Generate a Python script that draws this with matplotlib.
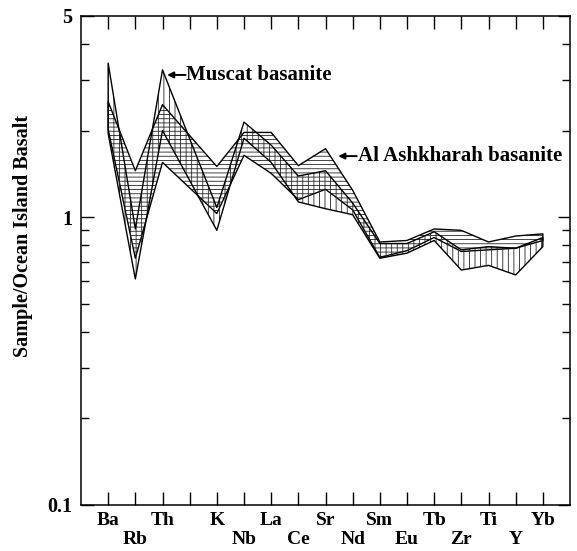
import numpy as np
import matplotlib.pyplot as plt
from matplotlib.ticker import NullFormatter

plt.rcParams['font.family'] = ['Liberation Serif', 'DejaVu Serif']
plt.rcParams['font.weight'] = 'bold'
plt.rcParams['hatch.linewidth'] = 0.6

# Slots along the x axis ('' is a slot with no data)
elements = ['Ba', 'Rb', 'Th', '', 'K', 'Nb', 'La', 'Ce', 'Sr', 'Nd',
            'Sm', 'Eu', 'Tb', 'Zr', 'Ti', 'Y', 'Yb']
lower_row = ['Rb', 'Nb', 'Ce', 'Nd', 'Eu', 'Zr', 'Y']   # labels on the second line

field_elements = ['Ba', 'Rb', 'Th', 'K', 'Nb', 'La', 'Ce', 'Sr', 'Nd',
                  'Sm', 'Eu', 'Tb', 'Zr', 'Ti', 'Y', 'Yb']

# OIB-normalised envelopes (upper / lower bound of each field)
muscat_hi = [3.43, 0.91, 3.25, 1.08, 2.14, 1.78, 1.39, 1.45, 1.12, 0.81, 0.81, 0.89, 0.77, 0.79, 0.78, 0.85]
muscat_lo = [1.95, 0.61, 2.00, 0.90, 1.88, 1.55, 1.13, 1.07, 1.02, 0.72, 0.75, 0.83, 0.655, 0.68, 0.63, 0.79]
ashkh_hi = [2.52, 1.45, 2.46, 1.50, 1.97, 1.97, 1.51, 1.73, 1.24, 0.82, 0.83, 0.91, 0.90, 0.82, 0.86, 0.875]
ashkh_lo = [2.02, 0.72, 1.55, 1.03, 1.64, 1.42, 1.15, 1.25, 1.06, 0.725, 0.765, 0.85, 0.76, 0.77, 0.78, 0.83]

x = [elements.index(e) for e in field_elements]

fig = plt.figure(figsize=(5.77, 5.51), dpi=100)
ax = fig.add_axes([81/577, 1 - 505/551, (570 - 81)/577, (505 - 16)/551])

for hi, lo, hatch in [(ashkh_hi, ashkh_lo, '----'), (muscat_hi, muscat_lo, '|||')]:
    ax.fill_between(x, lo, hi, facecolor='none', edgecolor='#222222', hatch=hatch, linewidth=0)
    ax.fill_between(x, lo, hi, facecolor='none', edgecolor='black', linewidth=1.0)

ax.set_yscale('log')
ax.set_ylim(0.1, 5)
ax.set_xlim(-1, 17)

ax.set_yticks([0.1, 1, 5], labels=['0.1', '1', '5'])
ax.set_yticks([0.2, 0.3, 0.4, 0.5, 0.6, 0.7, 0.8, 0.9, 2, 3, 4], minor=True)
ax.yaxis.set_minor_formatter(NullFormatter())

top_pos = [i for i, e in enumerate(elements) if e not in lower_row]
bot_pos = [i for i, e in enumerate(elements) if e in lower_row]
ax.set_xticks(top_pos, labels=[elements[i] for i in top_pos])
ax.set_xticks(bot_pos, labels=[elements[i] for i in bot_pos], minor=True)

ax.tick_params(axis='x', which='both', direction='in', length=9.5, width=1,
               top=True, labelsize=14)
ax.tick_params(axis='x', which='major', pad=5)
ax.tick_params(axis='x', which='minor', pad=18.5)
ax.tick_params(axis='y', which='major', direction='in', length=9, width=1,
               right=True, labelsize=14.5, pad=6)
ax.tick_params(axis='y', which='minor', direction='in', length=5.5, width=1, right=True)
for s in ax.spines.values():
    s.set_linewidth(1.1)

ax.set_ylabel('Sample/Ocean Island Basalt', fontsize=14.5, fontweight='bold')
ax.yaxis.set_label_coords(-0.098, 0.55)

# field labels with short arrows pointing back at the envelope
arrow = dict(arrowstyle='-|>', lw=1.4, color='black', shrinkA=0, shrinkB=0,
             mutation_scale=9)
ax.annotate('', xy=(2.17, 3.12), xytext=(2.85, 3.12), arrowprops=arrow)
ax.text(2.88, 3.12, 'Muscat basanite', fontsize=15, ha='left', va='center')
ax.annotate('', xy=(8.47, 1.63), xytext=(9.15, 1.63), arrowprops=arrow)
ax.text(9.18, 1.63, 'Al Ashkharah basanite', fontsize=15, ha='left', va='center')

fig.savefig('out.png', dpi=100)
